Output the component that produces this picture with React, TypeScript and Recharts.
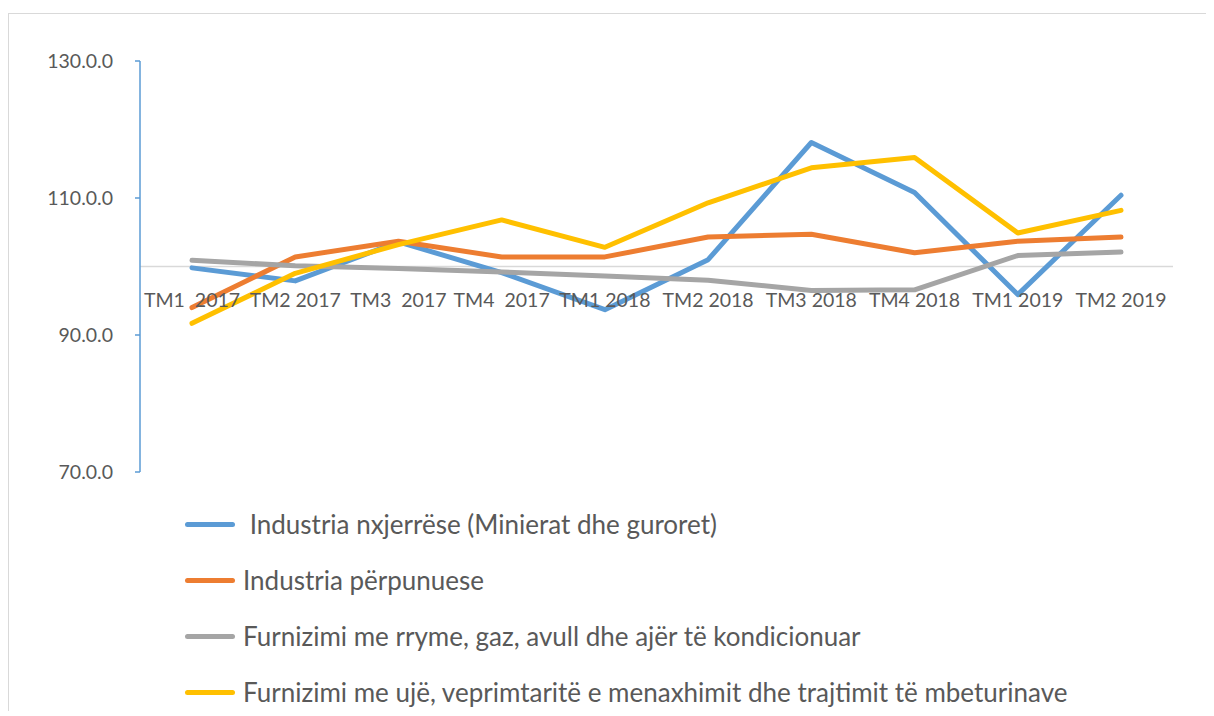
import React from "react";
import { LineChart, Line, XAxis, YAxis, ReferenceLine, Legend } from "recharts";

const categories = [
  "TM1  2017", "TM2 2017", "TM3  2017", "TM4  2017", "TM1 2018",
  "TM2 2018", "TM3 2018", "TM4 2018", "TM1 2019", "TM2 2019",
];
const mining = [99.8, 97.9, 103.6, 99.1, 93.7, 101.0, 118.1, 110.8, 95.9, 110.4];
const manufacturing = [94.0, 101.4, 103.7, 101.4, 101.4, 104.3, 104.7, 102.0, 103.7, 104.3];
const electricity = [100.9, 100.1, 99.7, 99.2, 98.6, 98.0, 96.5, 96.6, 101.6, 102.1];
const water = [91.7, 99.0, 103.2, 106.8, 102.8, 109.3, 114.4, 115.9, 104.9, 108.2];
const yTicks = [70, 90, 110, 130];

const seriesNames = [
  " Industria nxjerrëse (Minierat dhe guroret)",
  "Industria përpunuese",
  "Furnizimi me rryme, gaz, avull dhe ajër të kondicionuar",
  "Furnizimi me ujë, veprimtaritë e menaxhimit dhe trajtimit të mbeturinave",
];
const colors = ["#5B9BD5", "#ED7D31", "#A5A5A5", "#FFC000"];

const data = categories.map((c, i) => ({
  cat: c,
  s0: mining[i],
  s1: manufacturing[i],
  s2: electricity[i],
  s3: water[i],
}));

const FONT = "Lato, 'Open Sans', sans-serif";
const TEXT = "#595959";
const X_LABEL_SHIFT = -165;

const renderXTick = (props: any) => {
  const { x, y, payload } = props;
  return (
    <text
      x={x}
      y={y + X_LABEL_SHIFT}
      textAnchor="middle"
      fill={TEXT}
      fontSize={19.5}
      fontFamily={FONT}
      style={{ whiteSpace: "pre" }}
    >
      {payload.value}
    </text>
  );
};

const LegendContent = (props: any) => {
  const payload = [...(props.payload || [])].sort(
    (a: any, b: any) => seriesNames.indexOf(a.value) - seriesNames.indexOf(b.value)
  );
  return (
    <div style={{ fontFamily: FONT }}>
      {payload.map((p: any) => (
        <div key={p.value} style={{ display: "flex", alignItems: "center", height: 56 }}>
          <div
            style={{
              width: 50,
              height: 5,
              borderRadius: 3,
              background: p.color,
              marginRight: 8,
            }}
          />
          <span style={{ fontSize: 26, color: TEXT, whiteSpace: "pre" }}>{p.value}</span>
        </div>
      ))}
    </div>
  );
};

export default function App() {
  return (
    <div
      style={{
        position: "relative",
        top: 5,
        width: 1212,
        height: 702,
        borderTop: "1px solid #D9D9D9",
        borderLeft: "1px solid #D9D9D9",
      }}
    >
      <LineChart
        width={1205}
        height={702}
        data={data}
        margin={{ top: 47, right: 41, bottom: 214, left: 0 }}
      >
        <XAxis
          dataKey="cat"
          axisLine={false}
          tickLine={false}
          tickSize={0}
          tickMargin={0}
          height={30}
          interval={0}
          padding={{ left: 52, right: 52 }}
          tick={renderXTick}
        />
        <YAxis
          domain={[70, 130]}
          ticks={yTicks}
          width={131}
          tickSize={5}
          tickMargin={22}
          axisLine={{ stroke: "#5B9BD5", strokeWidth: 1.5 }}
          tickLine={{ stroke: "#5B9BD5", strokeWidth: 1.5 }}
          tick={{ fill: TEXT, fontSize: 19.5, fontFamily: FONT }}
          tickFormatter={(v: number) => `${v}.0.0`}
        />
        <ReferenceLine y={100} stroke="#D9D9D9" strokeWidth={1.5} />
        {["s0", "s1", "s2", "s3"].map((k, i) => (
          <Line
            key={k}
            type="linear"
            dataKey={k}
            name={seriesNames[i]}
            stroke={colors[i]}
            strokeWidth={5}
            strokeLinecap="round"
            strokeLinejoin="round"
            dot={false}
            activeDot={false}
            isAnimationActive={false}
          />
        ))}
        <Legend
          layout="horizontal"
          verticalAlign="middle"
          align="center"
          content={<LegendContent />}
          wrapperStyle={{ top: 482, left: 176, width: 1020, height: 224 }}
        />
      </LineChart>
    </div>
  );
}
